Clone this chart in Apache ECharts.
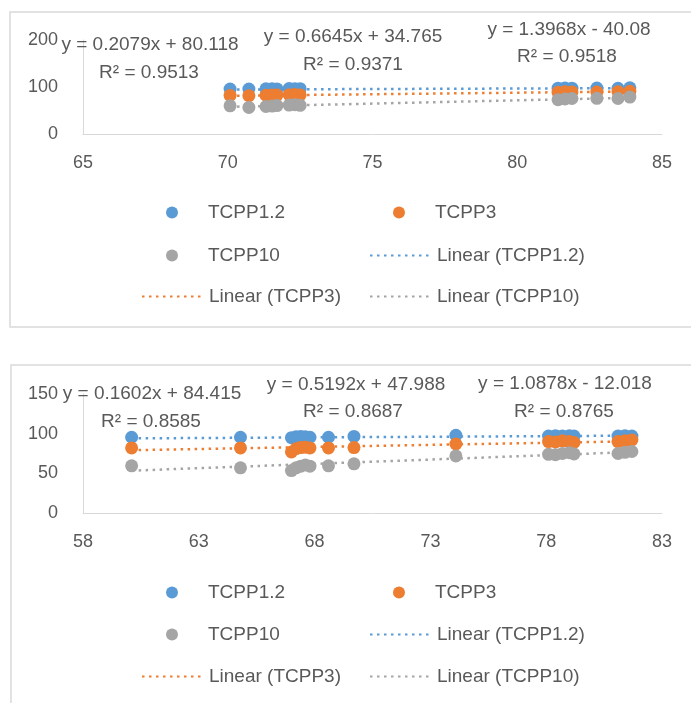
<!DOCTYPE html>
<html><head><meta charset="utf-8">
<script src="https://cdn.jsdelivr.net/npm/echarts@6/dist/echarts.min.js"></script>
<style>html,body{margin:0;padding:0;background:#fff}#c{width:691px;height:703px}</style>
</head><body><div id="c"></div>
<script>
// ---- shared ----
const seriesNames = ['TCPP1.2', 'TCPP3', 'TCPP10'];
const trendNames = ['Linear (TCPP1.2)', 'Linear (TCPP3)', 'Linear (TCPP10)'];

// ---- chart 1 ----
const x1 = [70.08, 70.73, 71.32, 71.53, 71.70, 72.12, 72.32, 72.50, 81.41, 81.65, 81.89, 82.75, 83.48, 83.89];
const tcpp12_1 = [95.5, 95.8, 96.2, 96.5, 96.0, 96.8, 96.2, 96.5, 97.5, 98.0, 97.6, 97.8, 97.4, 98.2];
const tcpp3_1 = [82.0, 81.5, 82.5, 83.0, 82.8, 83.5, 84.0, 83.2, 89.0, 89.8, 89.5, 89.2, 90.0, 91.0];
const tcpp10_1 = [60.0, 56.5, 58.5, 59.5, 60.5, 61.5, 62.5, 61.0, 73.0, 74.5, 75.5, 76.0, 75.5, 78.5];
const slopes1 = [0.2079, 0.6645, 1.3968];
const intercepts1 = [80.118, 34.765, -40.08];
const eqText1 = ['y = 0.2079x + 80.118', 'y = 0.6645x + 34.765', 'y = 1.3968x - 40.08'];
const r2Text1 = ['R² = 0.9513', 'R² = 0.9371', 'R² = 0.9518'];
const xTicks1 = [65, 70, 75, 80, 85];
const yTicks1 = [0, 100, 200];

// ---- chart 2 ----
const x2 = [60.1, 64.8, 67.0, 67.2, 67.4, 67.6, 67.8, 68.6, 69.7, 74.1, 78.1, 78.4, 78.7, 79.0, 79.2, 81.1, 81.4, 81.7];
const tcpp12_2 = [95.5, 95.5, 95.0, 96.0, 96.5, 96.0, 95.5, 95.5, 96.5, 98.0, 97.0, 97.5, 97.0, 97.5, 97.0, 97.0, 97.5, 97.0];
const tcpp3_2 = [82.0, 82.0, 77.0, 81.0, 82.5, 83.0, 82.0, 82.0, 82.5, 87.0, 90.0, 89.5, 91.0, 90.0, 89.0, 90.0, 91.0, 92.0];
const tcpp10_2 = [59.5, 57.0, 53.5, 57.0, 59.0, 60.5, 59.0, 59.5, 62.0, 72.0, 74.0, 73.5, 75.0, 76.0, 74.5, 75.0, 76.5, 77.5];
const slopes2 = [0.1602, 0.5192, 1.0878];
const intercepts2 = [84.415, 47.988, -12.018];
const eqText2 = ['y = 0.1602x + 84.415', 'y = 0.5192x + 47.988', 'y = 1.0878x - 12.018'];
const r2Text2 = ['R² = 0.8585', 'R² = 0.8687', 'R² = 0.8765'];
const xTicks2 = [58, 63, 68, 73, 78, 83];
const yTicks2 = [0, 50, 100, 150];

// ---- styling ----
const colors = ['#5B9BD5', '#ED7D31', '#A5A5A5'];
const FONT = '"Liberation Sans", Arial, sans-serif';
const TXT = '#595959';
const AXC = '#d9d9d9';

const grids = [
  { left: 83, top: 40, width: 579, height: 94 },
  { left: 83, top: 394, width: 579, height: 119 }
];
const charts = [
  { x: x1, ys: [tcpp12_1, tcpp3_1, tcpp10_1], a: slopes1, b: intercepts1, eq: eqText1, r2: r2Text1, xt: xTicks1, yt: yTicks1,
    eqPos: [[150, 45], [353, 37], [569, 30]], r2Pos: [[149, 73], [353, 65], [567, 57]], legendRows: [213, 256, 297] },
  { x: x2, ys: [tcpp12_2, tcpp3_2, tcpp10_2], a: slopes2, b: intercepts2, eq: eqText2, r2: r2Text2, xt: xTicks2, yt: yTicks2,
    eqPos: [[152, 394], [356, 385], [565, 384]], r2Pos: [[151, 422], [353, 412], [564, 412]], legendRows: [593, 635, 677] }
];

const xAxes = [], yAxes = [], series = [], graphic = [], legends = [];
graphic.push({ type: 'rect', z: -10, shape: { x: 10, y: 12, width: 700, height: 315 }, style: { fill: 'none', stroke: '#d9d9d9', lineWidth: 1.5 } });
graphic.push({ type: 'rect', z: -10, shape: { x: 11, y: 365, width: 700, height: 360 }, style: { fill: 'none', stroke: '#d9d9d9', lineWidth: 1.5 } });

charts.forEach((c, gi) => {
  xAxes.push({
    type: 'value', gridIndex: gi, min: c.xt[0], max: c.xt[c.xt.length - 1],
    axisLine: { show: true, lineStyle: { color: AXC, width: 1 } },
    axisTick: { show: false }, splitLine: { show: false },
    axisLabel: { customValues: c.xt, margin: 20, color: TXT, fontSize: 18, fontFamily: FONT, showMinLabel: true, showMaxLabel: true }
  });
  yAxes.push({
    type: 'value', gridIndex: gi, min: c.yt[0], max: c.yt[c.yt.length - 1], interval: c.yt[1] - c.yt[0],
    axisLine: { show: true, lineStyle: { color: AXC, width: 1 } },
    axisTick: { show: false }, splitLine: { show: false },
    axisLabel: { margin: 25, color: TXT, fontSize: 18, fontFamily: FONT }
  });
  const xmin = Math.min(...c.x), xmax = Math.max(...c.x);
  for (let k = 0; k < 3; k++) {
    series.push({
      name: trendNames[k], type: 'line', xAxisIndex: gi, yAxisIndex: gi, symbol: 'none', silent: true, z: 1,
      data: [[xmin, c.a[k] * xmin + c.b[k]], [xmax, c.a[k] * xmax + c.b[k]]],
      lineStyle: { color: colors[k], width: 2.5, type: [2.5, 4.5] }, itemStyle: { color: colors[k] }
    });
  }
  for (let k = 0; k < 3; k++) {
    series.push({
      name: seriesNames[k], type: 'scatter', xAxisIndex: gi, yAxisIndex: gi, symbolSize: 13, z: 2 + k,
      data: c.x.map((v, i) => [v, c.ys[k][i]]), itemStyle: { color: colors[k], opacity: 1 }
    });
  }
  for (let k = 0; k < 3; k++) {
    graphic.push({ type: 'text', z: 100, style: { text: c.eq[k], x: c.eqPos[k][0], y: c.eqPos[k][1], align: 'center', verticalAlign: 'middle', fontSize: 19, fontFamily: FONT, fill: TXT } });
    graphic.push({ type: 'text', z: 100, style: { text: c.r2[k], x: c.r2Pos[k][0], y: c.r2Pos[k][1], align: 'center', verticalAlign: 'middle', fontSize: 19, fontFamily: FONT, fill: TXT } });
  }
  // [name, left, row, isTrend]
  const items = [
    [seriesNames[0], 166, 0, false], [seriesNames[1], 393, 0, false],
    [seriesNames[2], 166, 1, false], [trendNames[0], 369, 1, true],
    [trendNames[1], 141, 2, true], [trendNames[2], 369, 2, true]
  ];
  items.forEach(([nm, left, row, isTrend]) => {
    const lg = {
      data: [nm], left: left, top: c.legendRows[row] - 10, padding: 0, itemGap: 0,
      itemWidth: 62, itemHeight: 12, selectedMode: false,
      textStyle: { color: TXT, fontSize: 19, fontFamily: FONT }
    };
    if (isTrend) lg.itemStyle = { opacity: 0 };
    legends.push(lg);
  });
});

const chart = echarts.init(document.getElementById('c'), null, { renderer: 'canvas' });
chart.setOption({
  animation: false,
  backgroundColor: '#fff',
  grid: grids, xAxis: xAxes, yAxis: yAxes, series: series, legend: legends, graphic: graphic
});
</script></body></html>
